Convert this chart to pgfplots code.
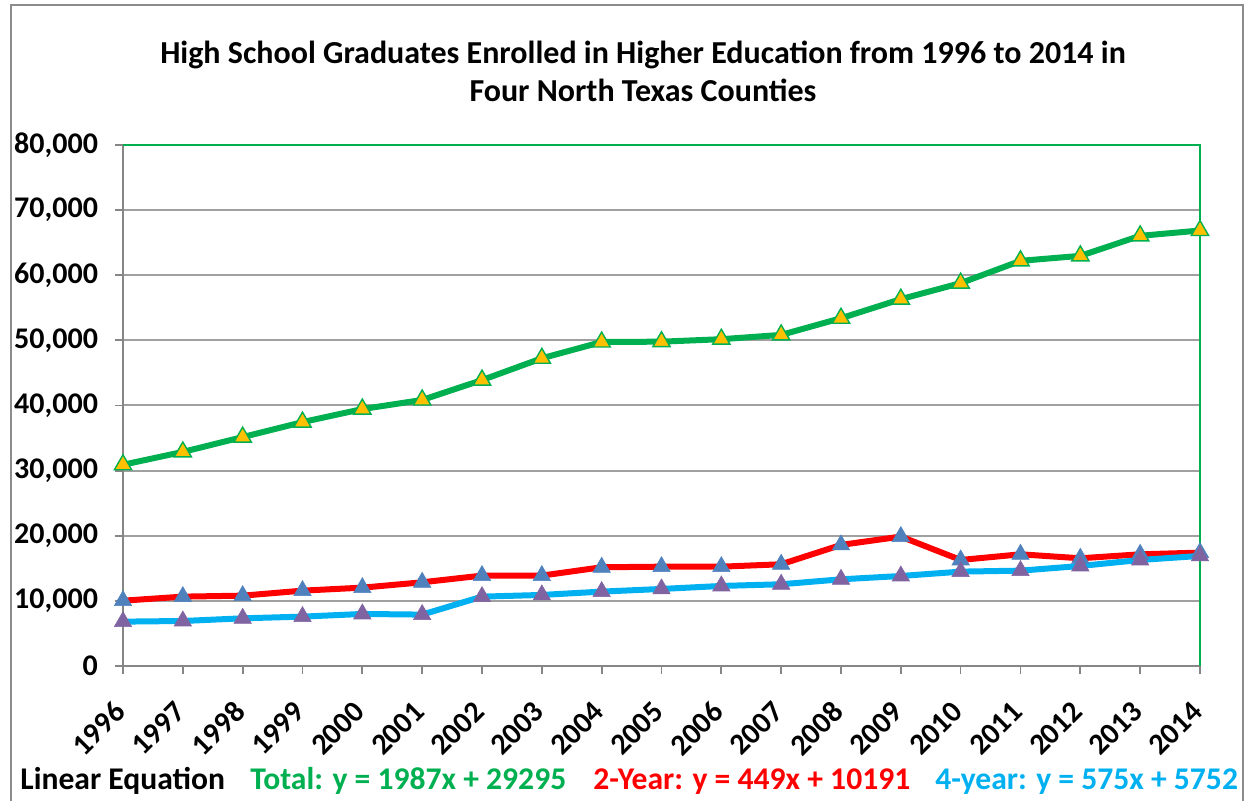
\documentclass[border=0pt]{standalone}
\usepackage{pgfplots}
\pgfplotsset{compat=1.18}
\usepackage{fontspec}
\setmainfont{Carlito}
\definecolor{cgreen}{HTML}{00B050}
\definecolor{cred}{HTML}{FF0000}
\definecolor{cblue}{HTML}{00B0F0}
\definecolor{cyellow}{HTML}{FFC000}
\definecolor{mblue}{HTML}{4F81BD}
\definecolor{mpurple}{HTML}{8064A2}
\definecolor{gridgray}{HTML}{A0A0A0}
\definecolor{axgray}{HTML}{868686}
\definecolor{framegray}{HTML}{8C8C8C}
\begin{document}
\begin{tikzpicture}[x=1pt,y=1pt]
\useasboundingbox (-61.5,-67.5) rectangle (562.5,333);
\draw[framegray, line width=0.9pt] (-56,-70) -- (-56,330.5) -- (560,330.5) -- (560,-70);
\begin{axis}[
  at={(0,0)}, anchor=south west,
  scale only axis, width=538.5pt, height=260.5pt,
  xmin=1996, xmax=2014, ymin=0, ymax=80000,
  xtick={1996,...,2014},
  ytick={0,10000,...,80000},
  scaled y ticks=false,
  clip=false,
  axis line style={draw=none},
  ymajorgrids, grid style={gridgray, line width=1pt},
  tick align=outside, major tick length=4pt,
  tick style={axgray, line width=0.9pt},
  xtick pos=left, ytick pos=left,
  xticklabel style={font=\bfseries\fontsize{15}{17}\selectfont, anchor=east, xshift=1pt, yshift=-14pt, rotate=45, /pgf/number format/1000 sep={}, /pgf/number format/assume math mode=true},
  yticklabel style={font=\bfseries\fontsize{15}{17}\selectfont, /pgf/number format/1000 sep={,}, /pgf/number format/assume math mode=true, xshift=-5pt},
]
\draw[axgray, line width=0.9pt] (rel axis cs:0,1) -- (rel axis cs:0,0) -- (rel axis cs:1,0);
\draw[cgreen, line width=0.9pt] (rel axis cs:0,1) -- (rel axis cs:1,1) -- (rel axis cs:1,0);
\addplot[cgreen, line width=3pt, mark=triangle*, mark size=5pt, mark options={fill=cyellow, draw=cgreen, line width=0.7pt}] coordinates {
(1996,30900) (1997,32870) (1998,35150) (1999,37450) (2000,39450) (2001,40850)
(2002,43900) (2003,47250) (2004,49750) (2005,49800) (2006,50180) (2007,50840)
(2008,53400) (2009,56330) (2010,58790) (2011,62210) (2012,62980) (2013,66050) (2014,66870)};
\addplot[cred, line width=3pt, mark=triangle*, mark size=5pt, mark options={fill=mblue, draw=mblue, line width=0.3pt}] coordinates {
(1996,10030) (1997,10650) (1998,10800) (1999,11570) (2000,12030) (2001,12850)
(2002,13880) (2003,13880) (2004,15160) (2005,15250) (2006,15250) (2007,15620)
(2008,18590) (2009,19870) (2010,16280) (2011,17150) (2012,16540) (2013,17150) (2014,17410)};
\addplot[cblue, line width=3pt, mark=triangle*, mark size=5pt, mark options={fill=mpurple, draw=mpurple, line width=0.3pt}] coordinates {
(1996,6810) (1997,6910) (1998,7320) (1999,7580) (2000,7990) (2001,7890)
(2002,10650) (2003,10910) (2004,11420) (2005,11830) (2006,12290) (2007,12550)
(2008,13310) (2009,13820) (2010,14490) (2011,14640) (2012,15360) (2013,16280) (2014,16900)};
\end{axis}
\node[font=\bfseries\fontsize{16}{19}\selectfont, align=center] at (260,297.5) {High School Graduates Enrolled in Higher Education from 1996 to 2014 in\\Four North Texas Counties};
\node[font=\bfseries\fontsize{15.8}{17}\selectfont, anchor=base west, inner sep=0pt] at (-51.5,-62) {Linear Equation};
\node[font=\bfseries\fontsize{15.8}{17}\selectfont, anchor=base west, inner sep=0pt, text=cgreen] at (63.5,-62) {Total: y = 1987x + 29295};
\node[font=\bfseries\fontsize{15.8}{17}\selectfont, anchor=base west, inner sep=0pt, text=cred] at (235,-62) {2-Year: y = 449x + 10191};
\node[font=\bfseries\fontsize{15.8}{17}\selectfont, anchor=base west, inner sep=0pt, text=cblue] at (406,-62) {4-year: y = 575x + 5752};
\end{tikzpicture}
\end{document}
